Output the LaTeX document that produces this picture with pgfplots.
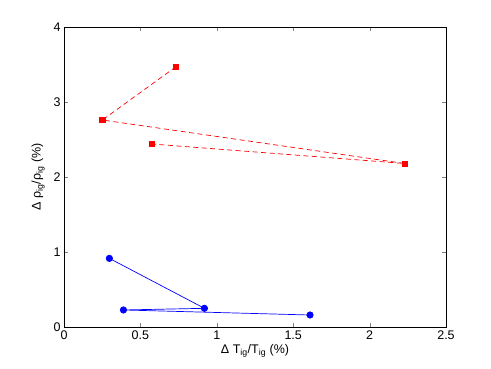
\documentclass[border=0pt]{standalone}
\usepackage{fontspec}
\setmainfont{Liberation Sans}
\usepackage{pgfplots}
\pgfplotsset{compat=1.18}

\begin{document}
\begin{tikzpicture}
\useasboundingbox (-64bp,-42bp) rectangle (427bp,327bp);
\begin{axis}[
  scale only axis, width=382bp, height=300bp,
  at={(0,0)}, anchor=south west,
  xmin=0, xmax=2.5, ymin=0, ymax=4,
  xtick={0,0.5,1,1.5,2,2.5}, ytick={0,1,2,3,4},
  /pgf/number format/assume math mode=true,
  tick label style={font=\fontsize{12.5bp}{14bp}\selectfont},
  label style={font=\fontsize{12.5bp}{14bp}\selectfont},
  tick align=inside, major tick length=4bp,
  axis line style={line width=0.5pt},
  xlabel={Δ T\textsubscript{ig}/T\textsubscript{ig} (\%)},
  ylabel={Δ ρ\textsubscript{ig}/ρ\textsubscript{ig} (\%)},
  xlabel style={yshift=2bp},
  ylabel style={yshift=2bp},
]
\addplot[red, dash pattern=on 5bp off 3.5bp, line width=0.7pt, mark=square*, mark size=2.6bp,
  mark options={solid}] coordinates {
  (0.733,3.47) (0.251,2.76) (2.23,2.18) (0.575,2.44)
};
\addplot[blue, line width=0.7pt, mark=*, mark size=3.2bp] coordinates {
  (0.297,0.915) (0.919,0.249) (0.389,0.227) (1.61,0.16)
};
\end{axis}
\end{tikzpicture}
\end{document}
